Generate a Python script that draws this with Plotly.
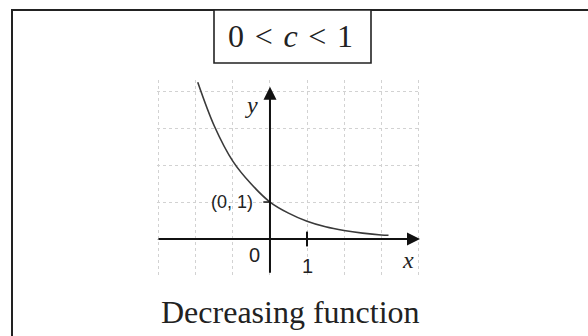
import plotly.graph_objects as go

# curve (x, y in graph units)
curve_x = [-1.95, -1.5, -1.0, -0.5, 0.0, 0.5, 1.0, 1.5, 2.0, 2.5, 3.0, 3.2]
curve_y = [4.24, 3.05, 2.1, 1.48, 1.0, 0.7, 0.48, 0.33, 0.23, 0.16, 0.11, 0.1]

title_text = "0&#8196;&lt;&#8196;<i>c</i>&#8196;&lt;&#8196;1"
caption_text = "Decreasing function"
point_label = "(0, 1)"
x_ticks = [0, 1]

W, H = 588, 336


def px(x):
    return x / W


def py(y):
    return 1 - y / H


def label(fig, x, y, text, family, size, ref="x"):
    yref = "y" if ref == "x" else "paper"
    fig.add_annotation(x=x, y=y, xref=ref, yref=yref, text=text, showarrow=False,
                       xanchor="center", yanchor="middle",
                       font=dict(family=family, size=size, color="#222"))


fig = go.Figure()

fig.add_trace(go.Scatter(
    x=curve_x, y=curve_y,
    mode="lines",
    line=dict(color="#3a3a3a", width=1.6, shape="spline"),
    hoverinfo="skip",
))

# axes with arrowheads
fig.add_annotation(x=4.05, y=0, ax=-3.05, ay=0, xref="x", yref="y", axref="x", ayref="y",
                   text="", showarrow=True, arrowhead=2, arrowsize=1.3, arrowwidth=2, arrowcolor="#111")
fig.add_annotation(x=0, y=4.12, ax=0, ay=-0.95, xref="x", yref="y", axref="x", ayref="y",
                   text="", showarrow=True, arrowhead=2, arrowsize=1.3, arrowwidth=2, arrowcolor="#111")

# tick at x=1 and at (0,1)
fig.add_shape(type="line", x0=1, x1=1, y0=-0.2, y1=0.2, xref="x", yref="y",
              line=dict(color="#111", width=2))
fig.add_shape(type="line", x0=-0.18, x1=0, y0=1, y1=1, xref="x", yref="y",
              line=dict(color="#111", width=1.5))

# labels
label(fig, -0.51, 3.62, "<i>y</i>", "Liberation Serif", 24)
label(fig, 3.73, -0.57, "<i>x</i>", "Liberation Serif", 24)
label(fig, -0.41, -0.43, str(x_ticks[0]), "Liberation Sans", 20)
label(fig, x_ticks[1], -0.72, str(x_ticks[1]), "Liberation Sans", 20)
label(fig, -1.03, 1.0, point_label, "Liberation Sans", 18)

# outer frame (left and top edges)
fig.add_shape(type="path", xref="paper", yref="paper",
              path=f"M {px(12)},{py(H)} L {px(12)},{py(10)} L {px(W)},{py(10)}",
              line=dict(color="#222", width=2))
# title box
fig.add_shape(type="rect", xref="paper", yref="paper",
              x0=px(214), x1=px(371), y0=py(63), y1=py(10),
              line=dict(color="#222", width=1.6), fillcolor="white")
label(fig, px(290), py(36), title_text, "Liberation Serif", 32, ref="paper")
label(fig, px(290), py(312), caption_text, "Liberation Serif", 32, ref="paper")

fig.update_xaxes(
    domain=[px(157), px(420)], range=[-3.05, 4.05],
    dtick=1, tick0=0, showgrid=True, griddash="dot", gridcolor="#d2d2d2", gridwidth=1,
    zeroline=False, showticklabels=False, ticks="", showline=False, fixedrange=True,
)
fig.update_yaxes(
    domain=[py(276), py(80)], range=[-1.0, 4.3],
    dtick=1, tick0=0, showgrid=True, griddash="dot", gridcolor="#d2d2d2", gridwidth=1,
    zeroline=False, showticklabels=False, ticks="", showline=False, fixedrange=True,
)
fig.update_layout(
    width=W, height=H,
    margin=dict(l=0, r=0, t=0, b=0),
    paper_bgcolor="white", plot_bgcolor="white",
    showlegend=False,
)

fig.write_html("out.html", config={"displayModeBar": False},
               post_script="document.body.style.margin='0';")
